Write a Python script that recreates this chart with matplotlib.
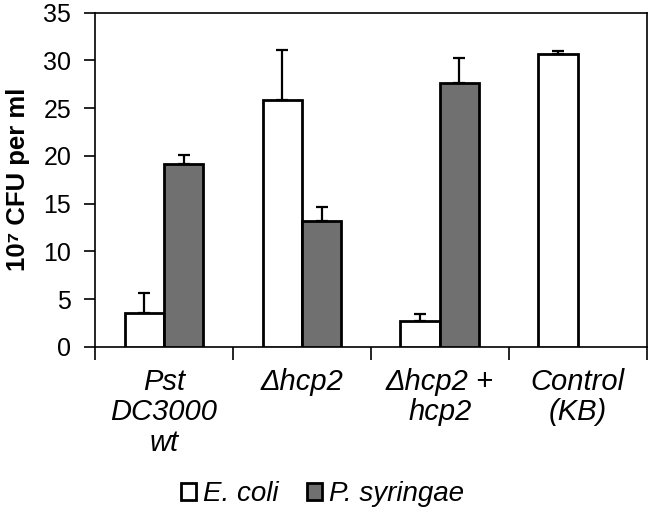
import matplotlib
matplotlib.use("Agg")
import matplotlib.pyplot as plt
import numpy as np

plt.rcParams['font.family'] = ['Liberation Sans', 'DejaVu Sans']

categories = ['Pst\nDC3000\nwt', '\u0394hcp2', '\u0394hcp2 +\nhcp2', 'Control\n(KB)']
ecoli = [3.6, 25.8, 2.7, 30.7]
ecoli_err = [2.1, 5.3, 0.7, 0.3]
psyr = [19.1, 13.2, 27.6, 0.0]
psyr_err = [1.0, 1.5, 2.6, 0.0]

fig = plt.figure(figsize=(6.5, 5.21), dpi=100)
ax = fig.add_axes([0.146, 0.334, 0.849, 0.642])

x = np.arange(len(categories))
w = 0.285
err_kw = dict(ecolor='black', elinewidth=1.6, capsize=4.5, capthick=1.6)
ax.bar(x - w / 2, ecoli, w, yerr=[np.zeros(4), ecoli_err], color='white',
       edgecolor='black', linewidth=2, error_kw=err_kw, label='E. coli', zorder=3)
ps_mask = np.array(psyr) > 0
ax.bar(x[ps_mask] + w / 2, np.array(psyr)[ps_mask], w,
       yerr=[np.zeros(ps_mask.sum()), np.array(psyr_err)[ps_mask]],
       color='#707070', edgecolor='black', linewidth=2, error_kw=err_kw,
       label='P. syringae', zorder=3)

ax.set_xlim(-0.5, len(categories) - 0.5)
ax.set_ylim(0, 35)
ax.set_yticks(range(0, 36, 5))
ax.tick_params(axis='y', labelsize=18, length=8, width=1.2, direction='out', pad=9)
ax.set_xticks(np.arange(len(categories) + 1) - 0.5)
ax.set_xticklabels([])
ax.tick_params(axis='x', length=9, width=1.2, direction='out')
for i, lab in enumerate(categories):
    ax.text(i, -0.062, lab, transform=ax.get_xaxis_transform(), ha='center',
            va='top', fontsize=21, style='italic', linespacing=1.12)
for s in ax.spines.values():
    s.set_linewidth(1.2)

ax.set_ylabel('10\u2077 CFU per ml', fontsize=18.5, fontweight='bold')
ax.yaxis.set_label_coords(-0.118, 0.5)

leg = fig.legend(loc='lower center', bbox_to_anchor=(0.496, -0.022), ncol=2,
                 frameon=False, prop={'size': 20, 'style': 'italic'},
                 handlelength=0.55, handleheight=0.55, handletextpad=0.25,
                 columnspacing=1.0)

fig.savefig('out.png', dpi=100)
